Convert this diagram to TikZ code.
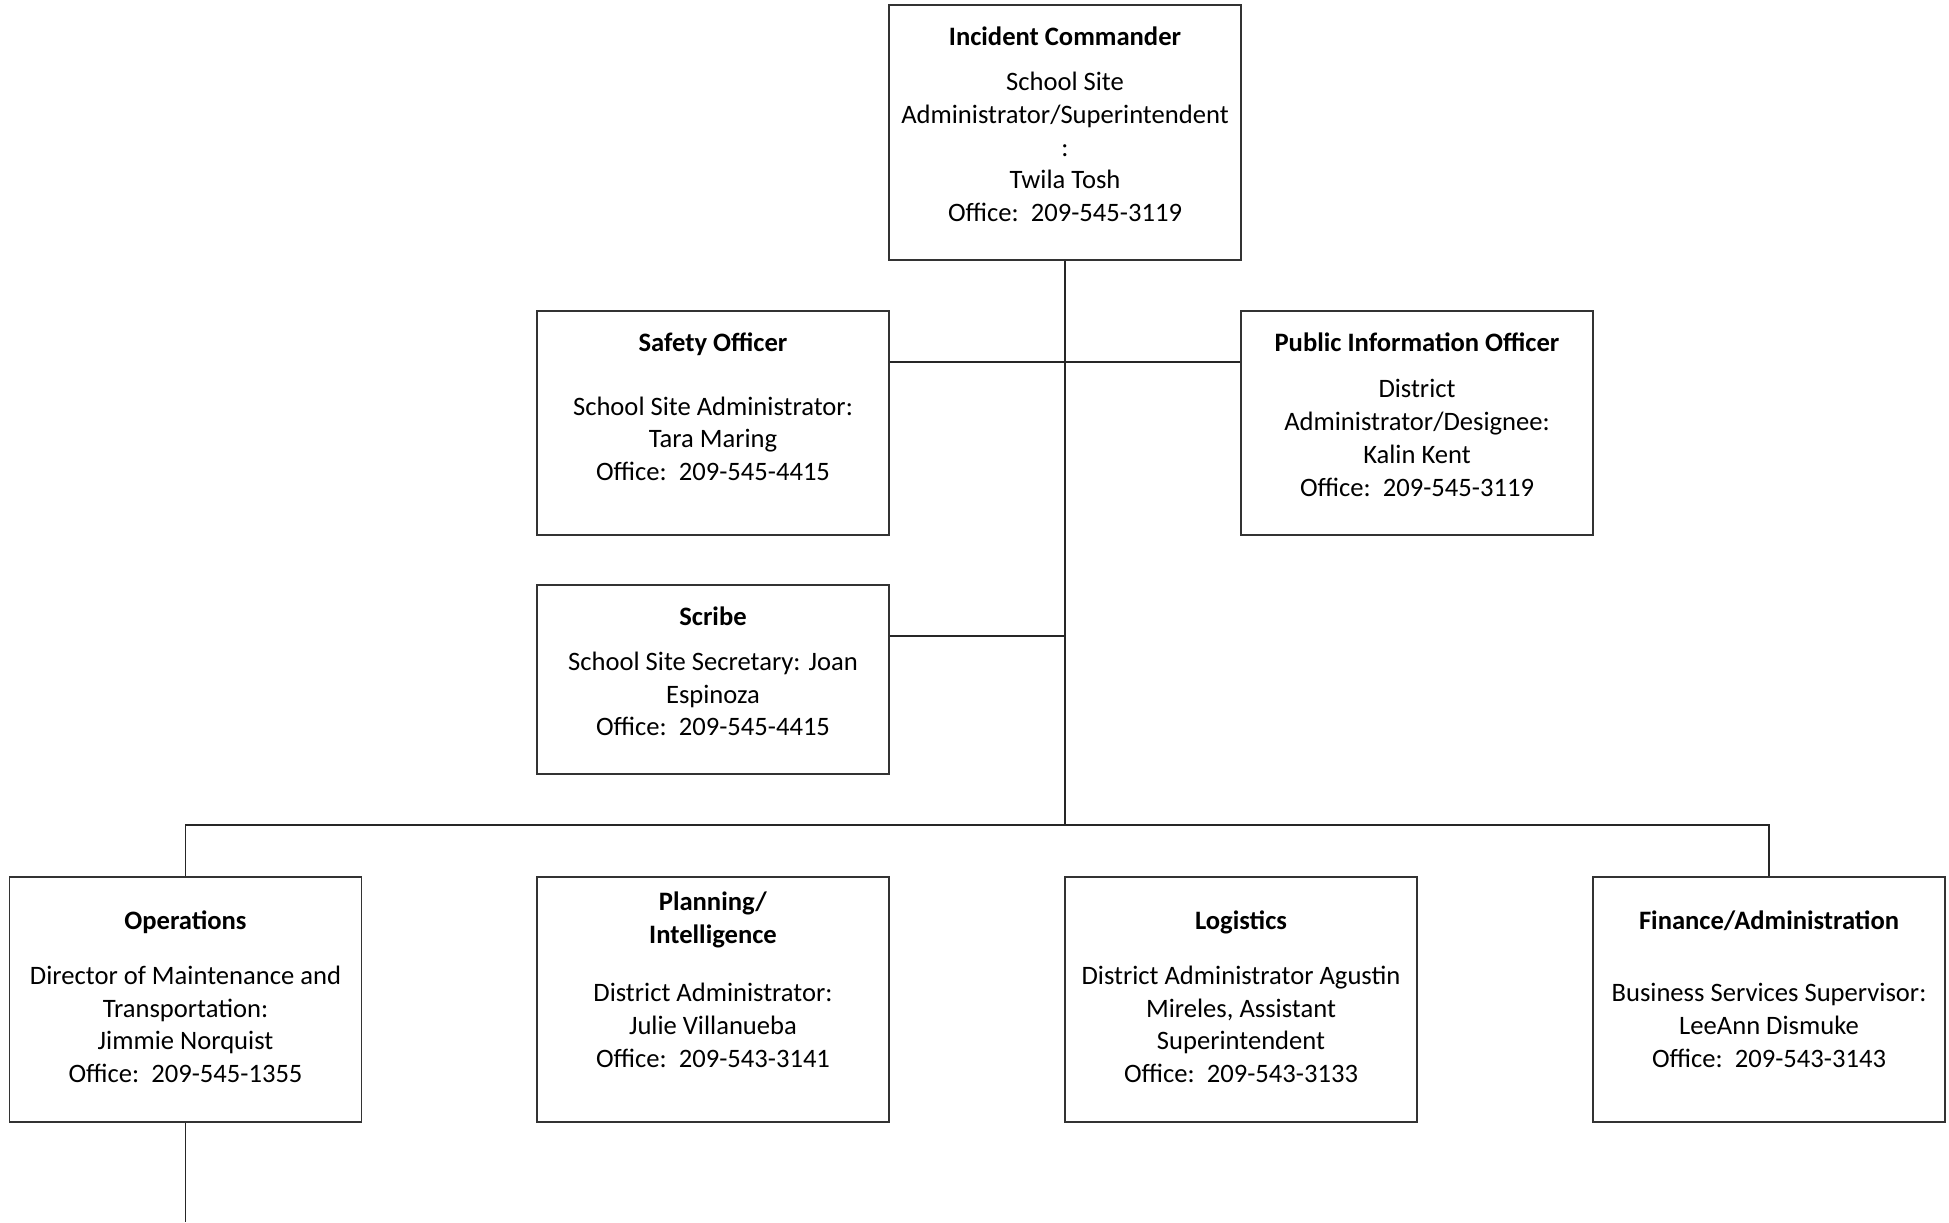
\documentclass[tikz,border=0pt]{standalone}
\usepackage{fontspec}
\setmainfont{Carlito}
\usepackage{tikz}
\usetikzlibrary{positioning}
\tikzset{box/.style = {draw = black!80, line width = 0.7pt, rectangle, inner sep = 0, minimum width = 176pt},
  lbl/.style = {inner sep = 0, align = center, font = \fontsize{13.3}{16.4}\selectfont},
  link/.style = {draw = black!85, line width = 0.6pt}}

\begin{document}
\begin{tikzpicture}[x=0.5pt, y=-0.5pt]
      \useasboundingbox (0, 0) rectangle (1949, 1222);

      \node [box, minimum height = 127.5pt] (ic) at (1065, 132.5) {};
      \node [box, minimum height = 112pt] (safety) at (713, 423) {};
      \node [box, minimum height = 112pt] (pio) at (1417, 423) {};
      \node [box, minimum height = 94.5pt] (scribe) at (713, 679.5) {};
      \node [box, minimum height = 122.5pt] (ops) at (185.5, 999.5) {};
      \node [box, minimum height = 122.5pt] (plan) at (713, 999.5) {};
      \node [box, minimum height = 122.5pt] (logi) at (1241, 999.5) {};
      \node [box, minimum height = 122.5pt] (fin) at (1769, 999.5) {};

      \node [lbl, below = 11pt of ic.north] (ic-t) {\textbf{Incident Commander}\\[6.2pt]
        School Site\\ Administrator/Superintendent\\ :\\ Twila Tosh\\ Office:\ \ 209-545-3119};
      \node [lbl, below = 11pt of safety.north] (safety-t) {\textbf{Safety Officer}\\[15.4pt]
        School Site Administrator:\\ Tara Maring\\ Office:\ \ 209-545-4415};
      \node [lbl, below = 11pt of pio.north] (pio-t) {\textbf{Public Information Officer}\\[6.7pt]
        District\\ Administrator/Designee:\\ Kalin Kent\\ Office:\ \ 209-545-3119};
      \node [lbl, below = 11pt of scribe.north] (scribe-t) {\textbf{Scribe}\\[6.1pt]
        School Site Secretary: Joan\\ Espinoza\\ Office:\ \ 209-545-4415};
      \node [lbl, below = 17pt of ops.north] (ops-t) {\textbf{Operations}\\[11pt]
        Director of Maintenance and\\ Transportation:\\ Jimmie Norquist\\ Office:\ \ 209-545-1355};
      \node [lbl, below = 7.8pt of plan.north] (plan-t) {\textbf{Planning/}\\ \textbf{Intelligence}\\[12.5pt]
        District Administrator:\\ Julie Villanueba\\ Office:\ \ 209-543-3141};
      \node [lbl, below = 17pt of logi.north] (logi-t) {\textbf{Logistics}\\[11pt]
        District Administrator Agustin\\ Mireles, Assistant\\ Superintendent\\ Office:\ \ 209-543-3133};
      \node [lbl, below = 17pt of fin.north] (fin-t) {\textbf{Finance/Administration}\\[19.7pt]
        Business Services Supervisor:\\ LeeAnn Dismuke\\ Office:\ \ 209-543-3143};

      \coordinate (so-joint) at (1065, 362);
      \coordinate (sc-joint) at (1065, 636);
      \coordinate (bus) at (1065, 825);
      \coordinate (tail) at (185.5, 1222);

      \draw [link] (ic.south) -- (bus);
      \draw [link] (safety.east |- so-joint) -- (pio.west |- so-joint);
      \draw [link] (scribe.east |- sc-joint) -- (sc-joint);
      \draw [link] (ops.north) |- (bus) -| (fin.north);
      \draw [link] (ops.south) -- (tail);
    \end{tikzpicture}
\end{document}
